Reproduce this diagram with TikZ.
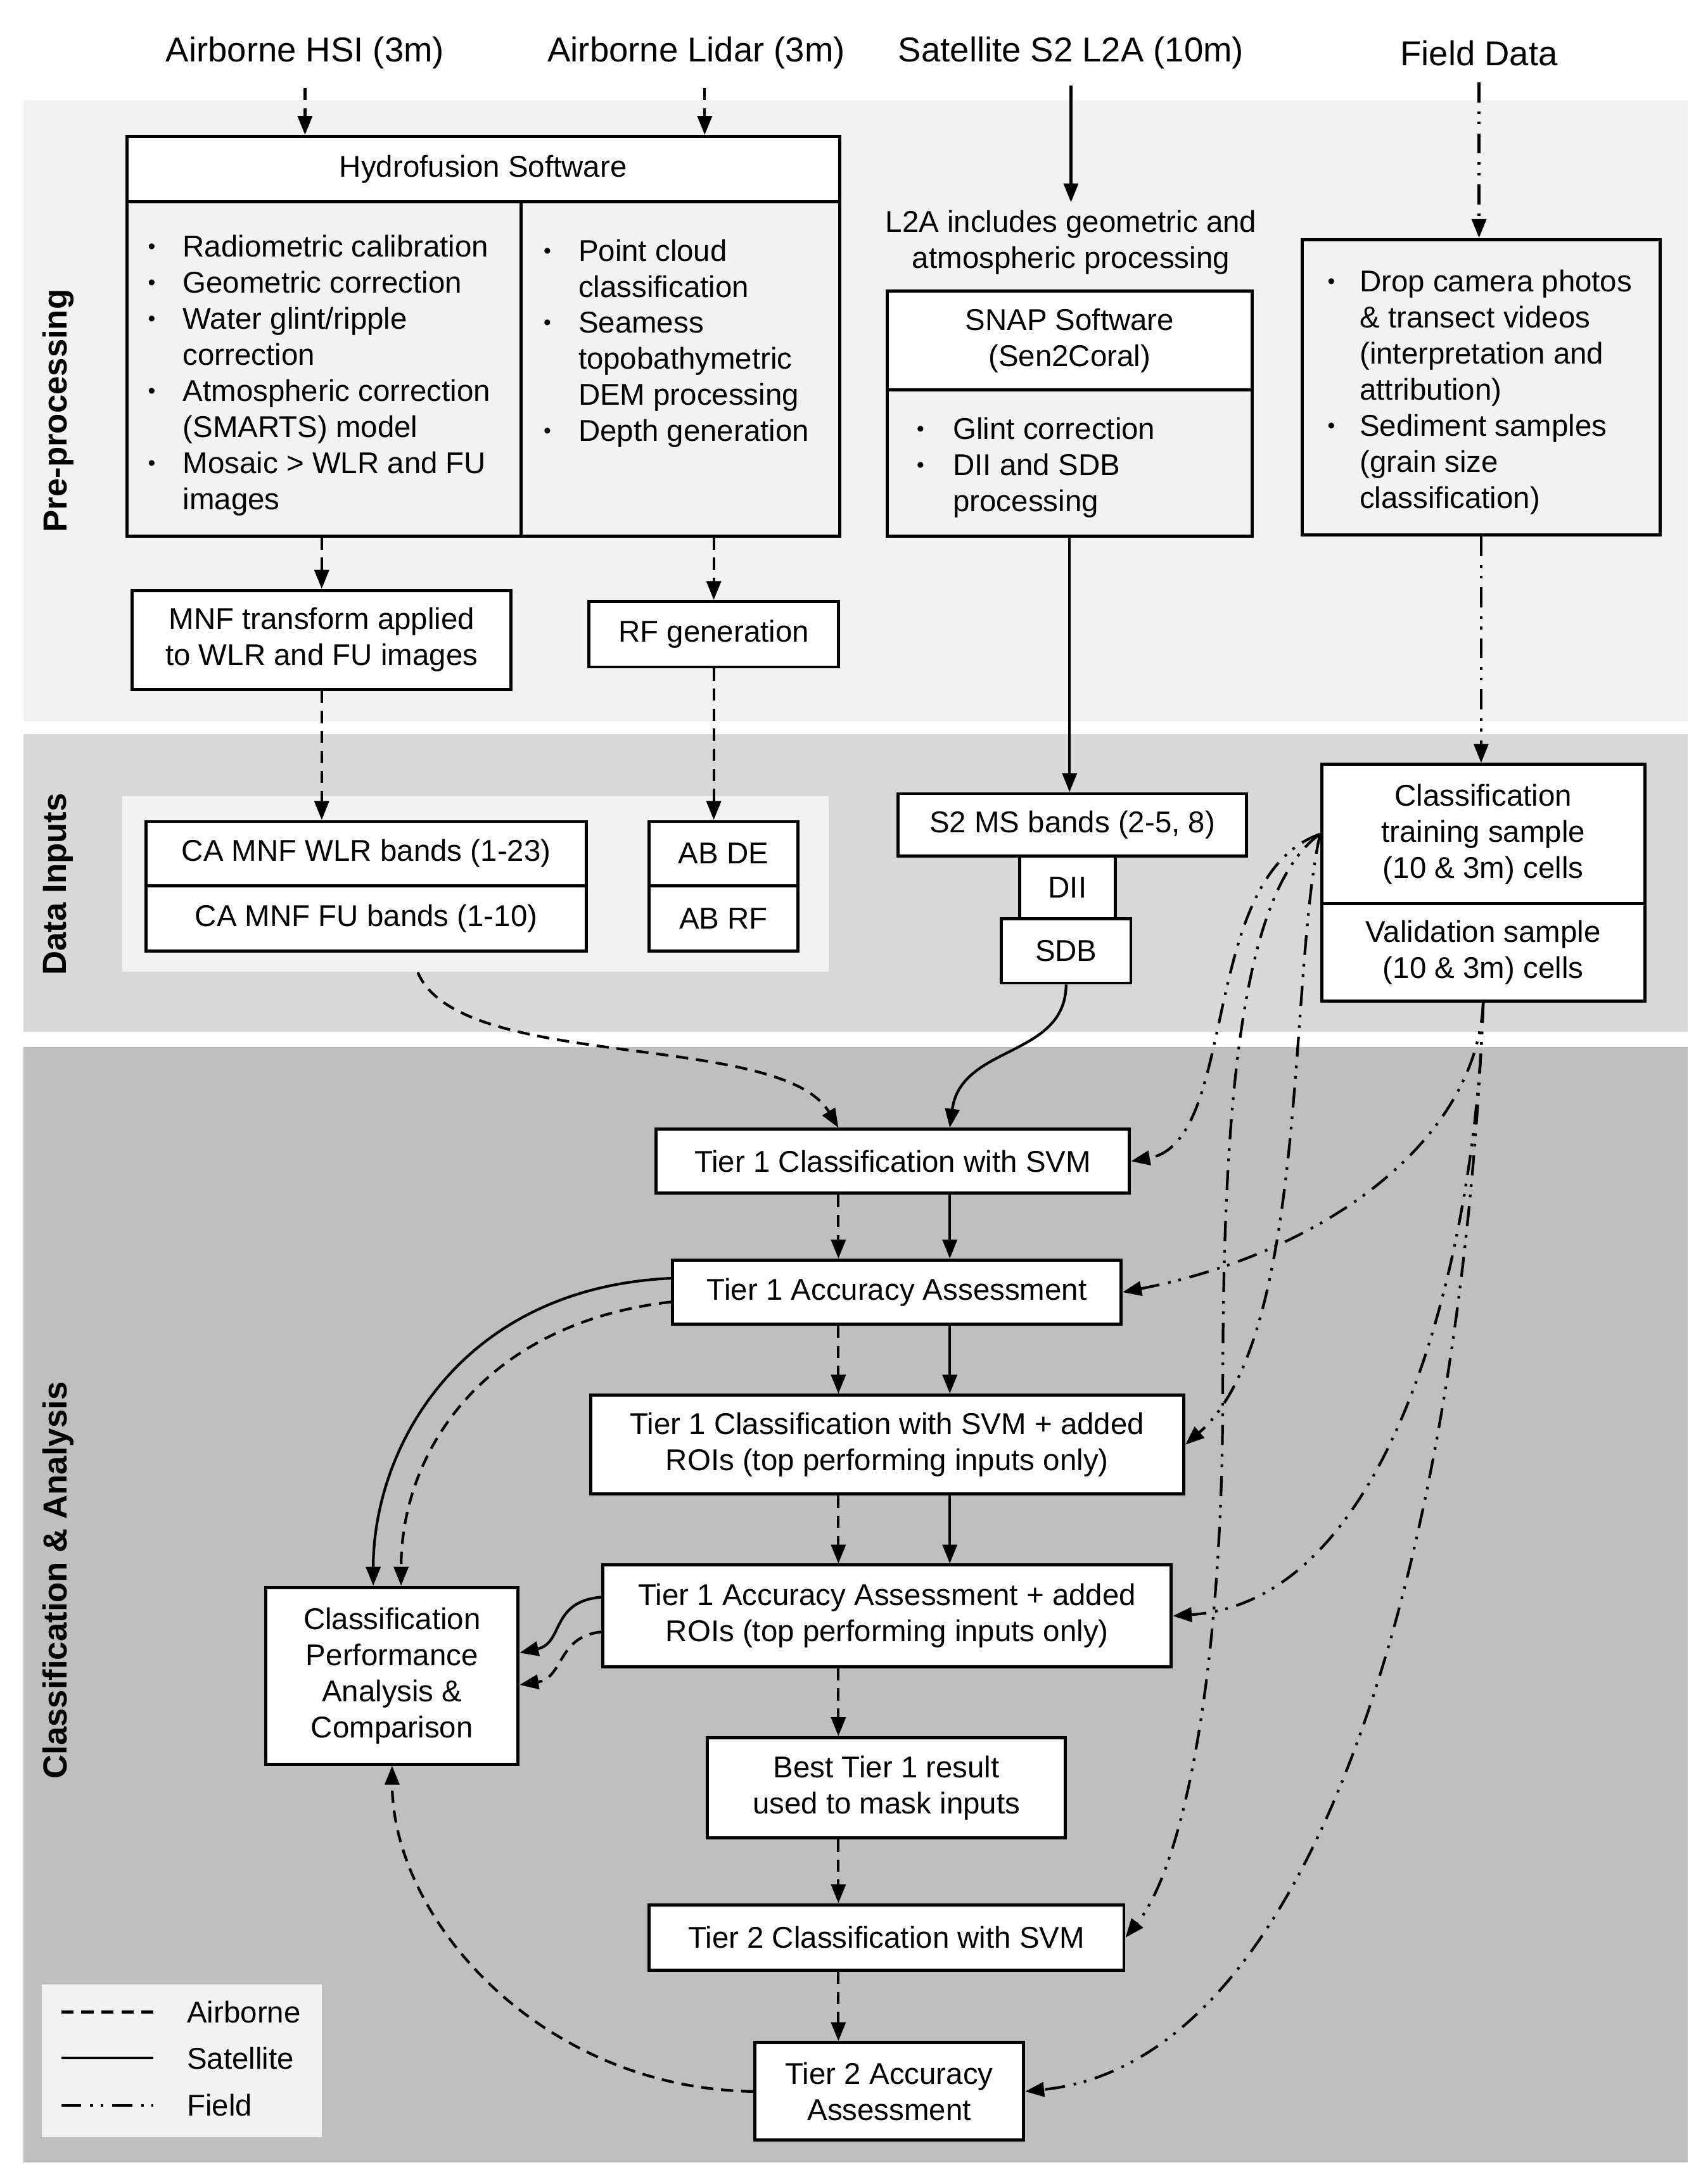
\documentclass[tikz,border=0pt]{standalone}
\usepackage{fontspec}
\setmainfont{Liberation Sans}
\usetikzlibrary{arrows.meta}

\newlength{\unitd}
\setlength{\unitd}{0.2198mm}
\newcommand{\boxfont}{\fontsize{13.5}{16.2}\selectfont}
\newcommand{\srcfont}{\fontsize{15.5}{18}\selectfont}
\newcommand{\secfont}{\fontsize{15}{18}\selectfont\bfseries}
\newcommand{\bul}{\raisebox{0.2ex}{\fontsize{9.5}{9.5}\selectfont\textbullet}}

\definecolor{preback}{HTML}{F2F2F2}
\definecolor{databack}{HTML}{D9D9D9}
\definecolor{classback}{HTML}{BFBFBF}

\begin{document}
\begin{tikzpicture}[x=0.2198mm, y=-0.2198mm, >={Triangle[length=8.5pt, width=6.5pt]},
	every box/.style={draw, line width=1.4pt, fill=white, inner sep=0pt, align=center, font=\boxfont},
	sz/.style 2 args={minimum width=#1*\unitd, minimum height=#2*\unitd},
	list/.style={anchor=north west, inner sep=0pt, font=\boxfont},
	airborne/.style={line width=1.2pt, dash pattern=on 5.5pt off 3.5pt},
	satellite/.style={line width=1.2pt},
	field/.style={line width=1.2pt, dash pattern=on 9pt off 4pt on 1.2pt off 3.5pt on 1.2pt off 4pt}]

			\useasboundingbox (0,0) rectangle (1226,1568.5);

			% bands
			\fill [preback] (17,72) rectangle (1212,518);
			\fill [databack] (17,527) rectangle (1212,741);
			\fill [classback] (17,752) rectangle (1212,1553);

			% section titles
			\foreach \l/\y [count=\i] in {Pre-processing/295, Data Inputs/635, Classification \& Analysis/1135}
				\node [rotate=90, font=\secfont] (section-\i) at (42,\y) {\l};

			% sources
			\foreach \m/\l/\x in {hsi/Airborne HSI (3m)/219, lidar/Airborne Lidar (3m)/500, s2/Satellite S2 L2A (10m)/769, field/Field Data/1062}
				\node [font=\srcfont] (src-\m) at (\x,38) {\l};

			% hydrofusion software
			\node [every box, sz={512}{47}] (hydro-head) at (347,121.5) {Hydrofusion Software};
			\node [every box, sz={283}{240}, fill=preback] (hydro-left) at (232.5,265) {};
			\node [every box, sz={229}{240}, fill=preback] (hydro-right) at (488.5,265) {};
			\node [list] (hydro-list-l) at (106,166) {\begin{tabular}{@{}p{25\unitd}@{}l@{}}
				\bul & Radiometric calibration\\
				\bul & Geometric correction\\
				\bul & Water glint/ripple\\
				     & correction\\
				\bul & Atmospheric correction\\
				     & (SMARTS) model\\
				\bul & Mosaic > WLR and FU\\
				     & images
				\end{tabular}};
			\node [list] (hydro-list-r) at (390,169) {\begin{tabular}{@{}p{25\unitd}@{}l@{}}
				\bul & Point cloud\\
				     & classification\\
				\bul & Seamess\\
				     & topobathymetric\\
				     & DEM processing\\
				\bul & Depth generation
				\end{tabular}};

			% snap software
			\node [font=\boxfont, align=center] (note-l2a) at (769,174) {L2A includes geometric and\\atmospheric processing};
			\node [every box, sz={262}{71}] (snap-head) at (768,244.5) {SNAP Software\\(Sen2Coral)};
			\node [every box, sz={262}{105}, fill=preback] (snap-body) at (768,332.5) {};
			\node [list] (snap-list) at (658,297) {\begin{tabular}{@{}p{26\unitd}@{}l@{}}
				\bul & Glint correction\\
				\bul & DII and SDB\\
				     & processing
				\end{tabular}};

			% field data
			\node [every box, sz={257}{212}, fill=preback] (field-box) at (1063.5,278) {};
			\node [list] (field-list) at (953,191) {\begin{tabular}{@{}p{23\unitd}@{}l@{}}
				\bul & Drop camera photos\\
				     & \& transect videos\\
				     & (interpretation and\\
				     & attribution)\\
				\bul & Sediment samples\\
				     & (grain size\\
				     & classification)
				\end{tabular}};

			% airborne products
			\node [every box, sz={272}{71}] (mnf) at (231,459.5) {MNF transform applied\\to WLR and FU images};
			\node [every box, sz={179}{47}] (rf) at (512.5,455.5) {RF generation};

			% data inputs
			\node [fill=preback, sz={507}{126}, inner sep=0pt] (air-group) at (341.5,635) {};
			\node [every box, sz={316}{46}] (ca-wlr) at (263,613) {CA MNF WLR bands (1-23)};
			\node [every box, sz={316}{47}] (ca-fu) at (263,659.5) {CA MNF FU bands (1-10)};
			\node [every box, sz={107}{46}] (ab-de) at (519.5,613) {AB DE};
			\node [every box, sz={107}{47}] (ab-rf) at (519.5,659.5) {AB RF};
			\node [every box, sz={250}{45}] (s2-ms) at (770,592.5) {S2 MS bands (2-5, 8)};
			\node [every box, sz={69}{45}] (dii) at (766.5,637.5) {DII};
			\node [every box, sz={93}{46}] (sdb) at (765.5,683) {SDB};
			\node [every box, sz={232}{100}] (train) at (1065,599) {Classification\\training sample\\(10 \& 3m) cells};
			\node [every box, sz={232}{70}] (valid) at (1065,684) {Validation sample\\(10 \& 3m) cells};

			% classification & analysis
			\node [every box, sz={340}{46}] (t1-class) at (641,834) {Tier 1 Classification with SVM};
			\node [every box, sz={322}{46}] (t1-acc) at (644,928) {Tier 1 Accuracy Assessment};
			\node [every box, sz={426}{71}] (t1-class-roi) at (637,1037.5) {Tier 1 Classification with SVM + added\\ROIs (top performing inputs only)};
			\node [every box, sz={408}{73}] (t1-acc-roi) at (637,1160.5) {Tier 1 Accuracy Assessment + added\\ROIs (top performing inputs only)};
			\node [every box, sz={181}{127}] (perf) at (281.5,1203.5) {Classification\\Performance\\Analysis \&\\Comparison};
			\node [every box, sz={257}{72}] (best) at (636.5,1284) {Best Tier 1 result\\used to mask inputs};
			\node [every box, sz={341}{47}] (t2-class) at (636.5,1391.5) {Tier 2 Classification with SVM};
			\node [every box, sz={193}{70}] (t2-acc) at (638.5,1502) {Tier 2 Accuracy\\Assessment};

			% legend
			\node [fill=preback, sz={201}{110}, inner sep=0pt] (legend) at (130.5,1480) {};
			\foreach \s/\l/\y in {airborne/Airborne/1445, satellite/Satellite/1478, field/Field/1512} {
				\draw [\s] (44,\y) -- (110,\y);
				\node [font=\boxfont, anchor=west, inner sep=0pt] (legend-\s) at (134,\y) {\l};
			}

			% lines from sources
			\coordinate (lidar-out) at ([xshift=6*\unitd]src-lidar.south);
			\draw [airborne, ->, shorten <=5pt] (src-hsi.south) -- (src-hsi.south |- hydro-head.north);
			\draw [airborne, ->, shorten <=5pt] (lidar-out) -- (lidar-out |- hydro-head.north);
			\draw [satellite, ->, shorten <=4pt] (src-s2.south) -- (note-l2a.north);
			\draw [field, ->, shorten <=4pt] (src-field.south) -- (src-field.south |- field-box.north);

			% lines in pre-processing
			\draw [airborne, ->] (mnf.north |- hydro-left.south) -- (mnf.north);
			\draw [airborne, ->] (rf.north |- hydro-right.south) -- (rf.north);
			\draw [airborne, ->] (mnf.south) -- (mnf.south |- ca-wlr.north);
			\draw [airborne, ->] (rf.south) -- (rf.south |- ab-de.north);
			\draw [satellite, ->] (snap-body.south) -- (snap-body.south |- s2-ms.north);
			\draw [field, ->] (field-box.south) -- (field-box.south |- train.north);

			% lines into tier 1
			\coordinate (dash-x) at (602,0);
			\coordinate (solid-x) at (682,0);
			\draw [airborne, ->] ([xshift=-41.5*\unitd]air-group.south) .. controls (330,770) and (560,740) .. (t1-class.north -| dash-x);
			\draw [satellite, ->] (sdb.south) .. controls (765,760) and (690,750) .. (t1-class.north -| solid-x);

			% lines down the tiers
			\foreach \a/\b in {t1-class/t1-acc, t1-acc/t1-class-roi, t1-class-roi/t1-acc-roi} {
				\draw [airborne, ->] (\a.south -| dash-x) -- (\b.north -| dash-x);
				\draw [satellite, ->] (\a.south -| solid-x) -- (\b.north -| solid-x);
			}
			\foreach \a/\b in {t1-acc-roi/best, best/t2-class, t2-class/t2-acc}
				\draw [airborne, ->] (\a.south -| dash-x) -- (\b.north -| dash-x);

			% lines to performance analysis
			\draw [satellite, ->] ([yshift=10*\unitd]t1-acc.west) .. controls (330,925) and (268,1040) .. ([xshift=-13.5*\unitd]perf.north);
			\draw [airborne, ->] ([yshift=-7*\unitd]t1-acc.west) .. controls (350,950) and (288,1040) .. ([xshift=6.5*\unitd]perf.north);
			\draw [satellite, ->] ([yshift=13.5*\unitd]t1-acc-roi.west) .. controls (395,1150) and (405,1180) .. ([yshift=16.5*\unitd]perf.east);
			\draw [airborne, ->] ([yshift=-11.5*\unitd]t1-acc-roi.west) .. controls (400,1175) and (405,1205) .. ([yshift=-6.5*\unitd]perf.east);
			\draw [airborne, ->] (t2-acc.west) .. controls (390,1500) and (282,1380) .. (perf.south);

			% lines from training sample
			\draw [field, ->] (train.west) .. controls (860,630) and (890,820) .. (t1-class.east);
			\draw [field, ->] (train.west) .. controls (925,700) and (940,960) .. (t1-class-roi.east);
			\draw [field, ->] (train.west) .. controls (890,640) and (878,800) .. (878,1000)
				.. controls (878,1200) and (850,1340) .. (t2-class.east);

			% lines from validation sample
			\draw [field, ->] (valid.south) .. controls (1060,820) and (950,900) .. (t1-acc.east);
			\draw [field, ->] (valid.south) .. controls (1060,900) and (1000,1150) .. (t1-acc-roi.east);
			\draw [field, ->] (valid.south) .. controls (1050,1100) and (950,1480) .. (t2-acc.east);

\end{tikzpicture}
\end{document}
